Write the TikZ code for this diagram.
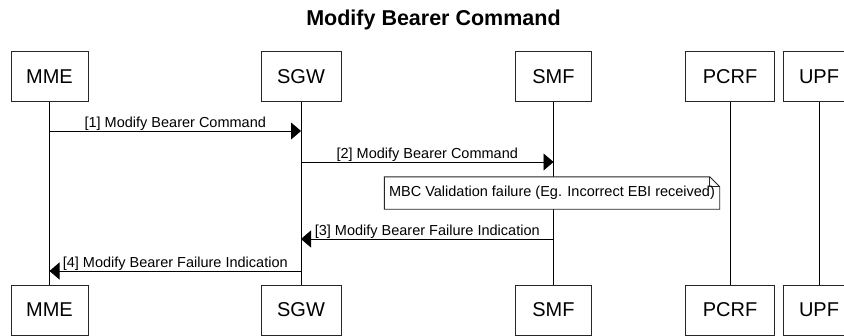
\documentclass[tikz,border=0pt]{standalone}
\usepackage{fontspec}
\setmainfont{Liberation Sans}
\usetikzlibrary{arrows.meta}
\begin{document}
\begin{tikzpicture}[x=1pt,y=-1pt,
  actor/.style={draw=black!85, line width=0.9pt, fill=white, minimum height=50pt, inner sep=0pt, font=\fontsize{20}{22}\selectfont},
  life/.style={draw=black, line width=0.9pt},
  msg/.style={draw=black, line width=0.9pt, -{Triangle[length=10pt,width=17pt]}},
  lbl/.style={anchor=south, inner sep=0pt, font=\fontsize{14.5}{16}\selectfont},
  notetext/.style={inner sep=0pt, minimum width=335pt, minimum height=32pt, font=\fontsize{14.5}{16}\selectfont}
]
\useasboundingbox (0,0) rectangle (844,335);
\clip (0,0) rectangle (844,335);
\fill[white] (0,0) rectangle (844,335);
% title
\node[font=\bfseries\fontsize{21.5}{24}\selectfont, inner sep=0pt] (title) at (433.5,19.5) {Modify Bearer Command};
% top actors
\node[actor, minimum width=77pt] (t1) at (49.5,76.5) {MME};
\node[actor, minimum width=80pt] (t2) at (301,76.5) {SGW};
\node[actor, minimum width=76pt] (t3) at (553.5,76.5) {SMF};
\node[actor, minimum width=89pt] (t4) at (730,76.5) {PCRF};
\node[actor, minimum width=72pt] (t5) at (819,76.5) {UPF};
% bottom actors
\node[actor, minimum width=77pt] (b1) at (49.5,310) {MME};
\node[actor, minimum width=80pt] (b2) at (301,310) {SGW};
\node[actor, minimum width=76pt] (b3) at (553.5,310) {SMF};
\node[actor, minimum width=89pt] (b4) at (730,310) {PCRF};
\node[actor, minimum width=72pt] (b5) at (819,310) {UPF};
% lifelines
\foreach \i in {1,...,5} \draw[life] (t\i.south) -- (b\i.north);
% message end points
\coordinate (m1a) at (49.5,131);  \coordinate (m1b) at (301,131);
\coordinate (m2a) at (301,162);   \coordinate (m2b) at (553.5,162);
\coordinate (m3a) at (553.5,239); \coordinate (m3b) at (301,239);
\coordinate (m4a) at (301,271);   \coordinate (m4b) at (49.5,271);
\draw[msg] (m1a) -- node[lbl] {[1] Modify Bearer Command} (m1b);
\draw[msg] (m2a) -- node[lbl] {[2] Modify Bearer Command} (m2b);
\draw[msg] (m3a) -- node[lbl] {[3] Modify Bearer Failure Indication} (m3b);
\draw[msg] (m4a) -- node[lbl] {[4] Modify Bearer Failure Indication} (m4b);
% note
\node[notetext] (note) at (552,193) {};
\draw[draw=black!85, line width=0.9pt, fill=white]
  (note.north west) -- ([xshift=-10pt]note.north east) -- ([yshift=-10pt]note.north east) -- (note.south east) -- (note.south west) -- cycle;
\draw[draw=black!85, line width=0.9pt]
  ([xshift=-10pt]note.north east) -- ([xshift=-10pt,yshift=-10pt]note.north east) -- ([yshift=-10pt]note.north east);
\node[inner sep=0pt, font=\fontsize{14.5}{16}\selectfont] at (note.center) {MBC Validation failure (Eg. Incorrect EBI received)};
\end{tikzpicture}
\end{document}
